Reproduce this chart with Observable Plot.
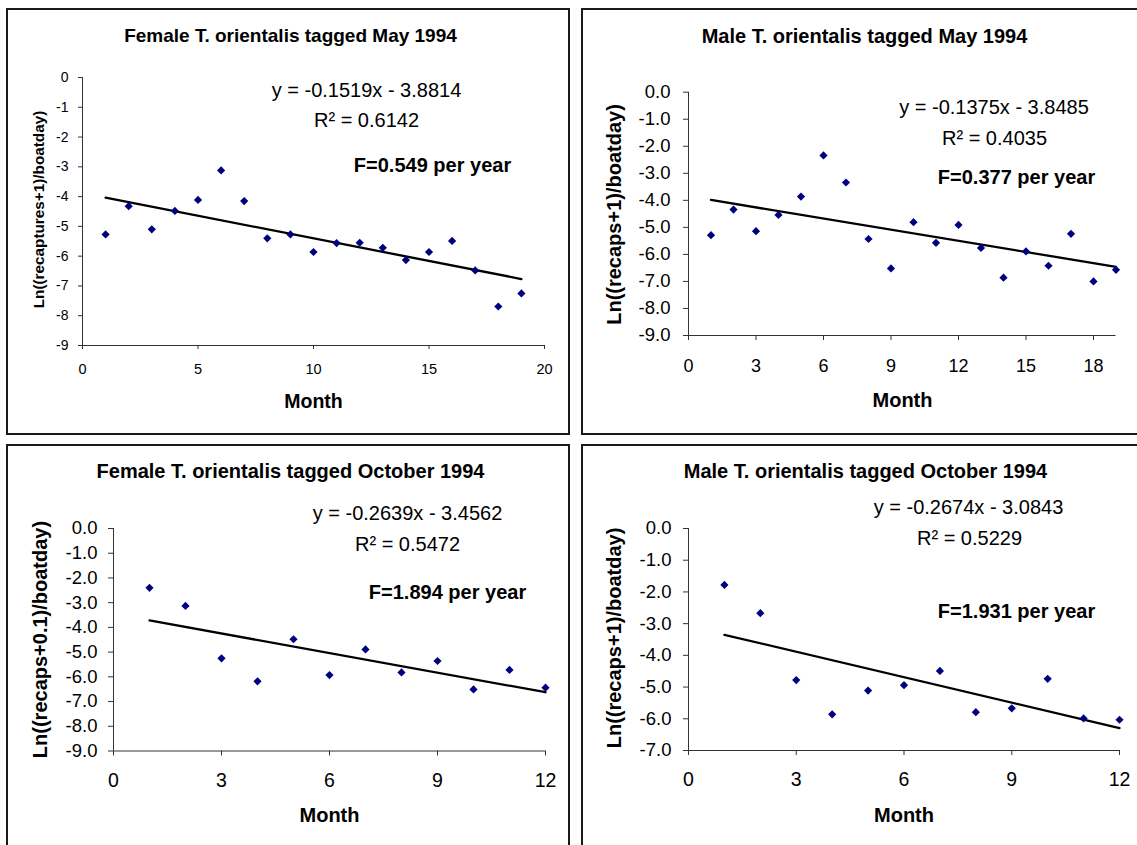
<!DOCTYPE html>
<html>
<head>
<meta charset="utf-8">
<script src="https://cdn.jsdelivr.net/npm/d3@7"></script>
<script src="https://cdn.jsdelivr.net/npm/@observablehq/plot@0.6"></script>
<style>
  html, body { margin: 0; padding: 0; background: #fff; overflow: hidden; }
  body { width: 1137px; height: 845px; position: relative; font-family: "Liberation Sans", Arial, sans-serif; }
  .panel { position: absolute; border: 2px solid #1a1a1a; box-sizing: border-box; overflow: hidden; background: #fff; }
  .panel svg { display: block; max-width: none; }
</style>
</head>
<body>
<script>
// Months since tagging
const monthsMay = [1, 2, 3, 4, 5, 6, 7, 8, 9, 10, 11, 12, 13, 14, 15, 16, 17, 18, 19];
const monthsOct = [1, 2, 3, 4, 5, 6, 7, 8, 9, 10, 11, 12];

// Log recapture rate per boat-day
const femaleMay = [-5.27, -4.32, -5.10, -4.48, -4.11, -3.12, -4.15, -5.40, -5.27, -5.86, -5.56, -5.55, -5.72, -6.13, -5.86, -5.49, -6.48, -7.69, -7.25];
const maleMay   = [-5.29, -4.34, -5.14, -4.54, -3.86, -2.34, -3.34, -5.43, -6.52, -4.81, -5.57, -4.91, -5.76, -6.86, -5.89, -6.42, -5.24, -7.00, -6.57];
const femaleOct = [-2.40, -3.13, -5.25, -6.18, -4.48, -5.93, -4.89, -5.82, -5.36, -6.51, -5.72, -6.44];
const maleOct   = [-1.78, -2.67, -4.78, -5.86, -5.11, -4.94, -4.49, -5.79, -5.67, -4.74, -5.99, -6.03];

// Fitted trend lines, goodness of fit and fishing mortality
const slopes     = [-0.1519, -0.1375, -0.2639, -0.2674];
const intercepts = [-3.8814, -3.8485, -3.4562, -3.0843];
const rSquared   = [0.6142, 0.4035, 0.5472, 0.5229];
const mortality  = [0.549, 0.377, 1.894, 1.931];

// Text
const titles = [
  "Female T. orientalis tagged May 1994",
  "Male T. orientalis tagged May 1994",
  "Female T. orientalis tagged October 1994",
  "Male T. orientalis tagged October 1994"
];
const yLabels = [
  "Ln((recaptures+1)/boatday)",
  "Ln((recaps+1)/boatday)",
  "Ln((recaps+0.1)/boatday)",
  "Ln((recaps+1)/boatday)"
];
const xLabel = "Month";

// Tick values
const xTicksMayF = [0, 5, 10, 15, 20];
const xTicksMayM = [0, 3, 6, 9, 12, 15, 18];
const xTicksOct  = [0, 3, 6, 9, 12];
const yTicksNine  = [0, -1, -2, -3, -4, -5, -6, -7, -8, -9];
const yTicksSeven = [0, -1, -2, -3, -4, -5, -6, -7];

const series = [
  {months: monthsMay, values: femaleMay, xTicks: xTicksMayF, yTicks: yTicksNine},
  {months: monthsMay, values: maleMay,   xTicks: xTicksMayM, yTicks: yTicksNine},
  {months: monthsOct, values: femaleOct, xTicks: xTicksOct,  yTicks: yTicksNine},
  {months: monthsOct, values: maleOct,   xTicks: xTicksOct,  yTicks: yTicksSeven}
];

// Page layout of each panel: border box, plot frame and label anchors (page pixels)
const layout = [
  {box: [6, 8, 564, 427], size: [560, 423], frame: [82, 544, 77, 345], xMax: 20, yMin: -9,
   yFmt: d => String(d), tick: 4, yPad: 10, xPad: 14, yTickFont: 14, xTickFont: 14.5,
   title: [290, 35], titleFont: 19, eq: [366, 90], r2: [366, 120], f: [432, 165.5],
   month: [313, 401.5], monthFont: 19.5, ylab: [39, 209], ylabFont: 15.3},
  {box: [581, 8, 604, 427], size: [600, 423], frame: [688, 1115.5, 91.7, 335], xMax: 19, yMin: -9,
   yFmt: d => d.toFixed(1), tick: 5, yPad: 13, xPad: 19, yTickFont: 18.5, xTickFont: 18,
   title: [864, 36], titleFont: 20, eq: [993.5, 106.7], r2: [994, 137.8], f: [1016, 176.7],
   month: [902, 400.3], monthFont: 20, ylab: [614, 214], ylabFont: 20},
  {box: [6, 444, 564, 424], size: [560, 420], frame: [113, 545, 528, 750.5], xMax: 12, yMin: -9,
   yFmt: d => d.toFixed(1), tick: 5, yPad: 11, xPad: 17.5, yTickFont: 18.5, xTickFont: 19.5,
   title: [290, 471.3], titleFont: 20, eq: [407, 513.3], r2: [407, 543.7], f: [447, 592.5],
   month: [329, 815], monthFont: 20, ylab: [40, 639], ylabFont: 20},
  {box: [581, 444, 604, 424], size: [600, 420], frame: [688, 1119, 528, 750], xMax: 12, yMin: -7,
   yFmt: d => d.toFixed(1), tick: 5, yPad: 12, xPad: 17, yTickFont: 18.5, xTickFont: 19.5,
   title: [865, 471.3], titleFont: 20, eq: [968, 506.7], r2: [969, 537.7], f: [1016, 611],
   month: [903.5, 815], monthFont: 20, ylab: [614, 637.5], ylabFont: 20}
];

const FONT = "'Liberation Sans', Arial, Helvetica, sans-serif";

function fmtEquation(slope, intercept) {
  const sign = intercept < 0 ? "-" : "+";
  return `y = ${slope.toFixed(4)}x ${sign} ${Math.abs(intercept).toFixed(4)}`;
}

series.forEach((s, i) => {
  const L = layout[i];
  const [bl, bt, bw, bh] = L.box;
  const ox = bl + 2, oy = bt + 2;
  const [fx0, fx1, fy0, fy1] = L.frame;
  const [w, h] = L.size;

  // Offset a page-pixel anchor relative to the frame's top-left corner
  const at = ([px, py]) => ({frameAnchor: "top-left", dx: px - fx0, dy: py - fy0});
  const label = (str, pos, opts) => Plot.text([str], {
    text: d => d, ...at(pos), textAnchor: "middle", lineAnchor: "middle",
    fill: "#000", ...opts
  });

  const points = s.months.map((m, j) => ({month: m, value: s.values[j]}));
  const first = s.months[0], last = s.months[s.months.length - 1];
  const trend = [first, last].map(m => ({month: m, value: slopes[i] * m + intercepts[i]}));

  const chart = Plot.plot({
    width: w,
    height: h,
    marginLeft: fx0 - ox,
    marginRight: ox + w - fx1,
    marginTop: fy0 - oy,
    marginBottom: oy + h - fy1,
    x: {domain: [0, L.xMax], label: null},
    y: {domain: [L.yMin, 0], label: null},
    style: {fontFamily: FONT, color: "#000", background: "transparent", overflow: "visible", maxWidth: "none"},
    marks: [
      Plot.ruleX([0], {stroke: "#333", strokeWidth: 1}),
      Plot.ruleY([L.yMin], {stroke: "#333", strokeWidth: 1}),
      Plot.axisY({ticks: s.yTicks, tickFormat: L.yFmt, tickSize: L.tick, tickPadding: L.yPad,
                  fontSize: L.yTickFont, stroke: "#333", label: null}),
      Plot.axisX({ticks: s.xTicks, tickFormat: d => String(d), tickSize: L.tick, tickPadding: L.xPad,
                  fontSize: L.xTickFont, stroke: "#333", label: null}),
      Plot.line(trend, {x: "month", y: "value", stroke: "#000", strokeWidth: 2.3}),
      Plot.dot(points, {x: "month", y: "value", symbol: "diamond2", r: 3.7, fill: "#000080", stroke: "none"}),
      label(titles[i], L.title, {fontSize: L.titleFont, fontWeight: "bold"}),
      label(fmtEquation(slopes[i], intercepts[i]), L.eq, {fontSize: 20}),
      label(`R\u00B2 = ${rSquared[i].toFixed(4)}`, L.r2, {fontSize: 20}),
      label(`F=${mortality[i].toFixed(3)} per year`, L.f, {fontSize: 20, fontWeight: "bold"}),
      label(xLabel, L.month, {fontSize: L.monthFont, fontWeight: "bold"}),
      label(yLabels[i], L.ylab, {fontSize: L.ylabFont, fontWeight: "bold", rotate: -90})
    ]
  });

  const panel = document.createElement("div");
  panel.className = "panel";
  panel.style.left = bl + "px";
  panel.style.top = bt + "px";
  panel.style.width = bw + "px";
  panel.style.height = bh + "px";
  panel.appendChild(chart);
  document.body.appendChild(panel);
});
</script>
</body>
</html>
